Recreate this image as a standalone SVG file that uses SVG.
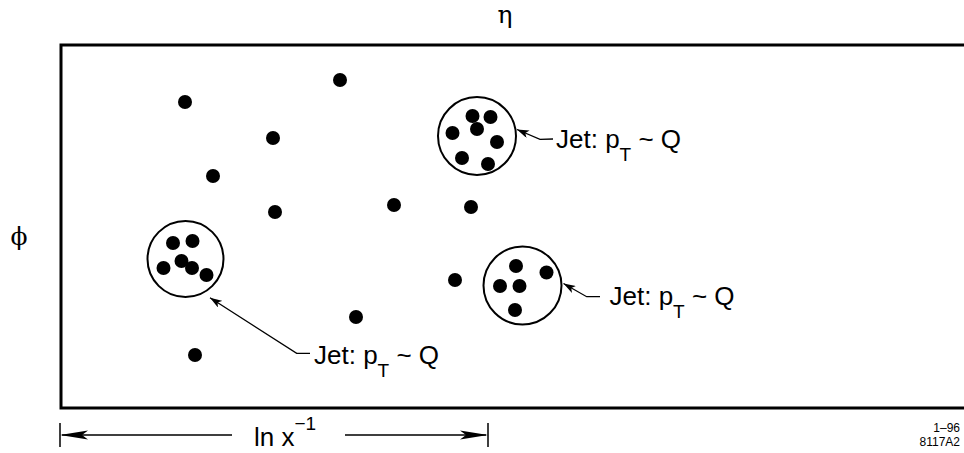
<svg xmlns="http://www.w3.org/2000/svg" width="964" height="453" viewBox="0 0 964 453">
<style>
.frame{fill:none;stroke:#000;stroke-width:3}
.dot{fill:#000}
.jet{fill:none;stroke:#000;stroke-width:2}
.lead{fill:none;stroke:#000;stroke-width:1.3}
.axis{fill:none;stroke:#000;stroke-width:1.5}
.lbl{font-family:"Liberation Sans",Arial,sans-serif;font-size:26px;fill:#000}
.sym{font-family:"DejaVu Serif","Liberation Serif",serif;font-size:25px;fill:#000}
.id{font-family:"Liberation Sans",Arial,sans-serif;font-size:12px;fill:#000;text-anchor:end}
</style>
<defs>
<marker id="ah" viewBox="0 0 12 8" refX="12" refY="4" markerWidth="12" markerHeight="8" markerUnits="userSpaceOnUse" orient="auto">
<path d="M0,0 L12,4 L0,8 L3,4 Z" fill="#000"/>
</marker>
</defs>
<rect width="964" height="453" fill="#fff"/>
<path class="frame" d="M1000,45 H61 V408 H1000"/>
<text class="sym" x="505" y="23" text-anchor="middle">η</text>
<text class="sym" x="19" y="245" text-anchor="middle">ϕ</text>
<g id="particles">
<circle class="dot" cx="185" cy="102" r="7"/>
<circle class="dot" cx="340" cy="80" r="7"/>
<circle class="dot" cx="273" cy="138" r="7"/>
<circle class="dot" cx="213" cy="176" r="7"/>
<circle class="dot" cx="275" cy="212" r="7"/>
<circle class="dot" cx="394" cy="205" r="7"/>
<circle class="dot" cx="471" cy="207" r="7"/>
<circle class="dot" cx="455" cy="280" r="7"/>
<circle class="dot" cx="356" cy="317" r="7"/>
<circle class="dot" cx="195" cy="355" r="7"/>
</g>
<g id="jet-top">
<circle class="jet" cx="477" cy="136" r="39"/>
<circle class="dot" cx="472.5" cy="116" r="7"/>
<circle class="dot" cx="490.5" cy="117" r="7"/>
<circle class="dot" cx="477" cy="129" r="7"/>
<circle class="dot" cx="452.5" cy="133" r="7"/>
<circle class="dot" cx="497" cy="142" r="7"/>
<circle class="dot" cx="462" cy="158" r="7"/>
<circle class="dot" cx="488" cy="164" r="7"/>
</g>
<g id="jet-left">
<circle class="jet" cx="185.5" cy="259" r="38"/>
<circle class="dot" cx="173" cy="243" r="7"/>
<circle class="dot" cx="192.5" cy="241" r="7"/>
<circle class="dot" cx="181.5" cy="261" r="7"/>
<circle class="dot" cx="163.5" cy="268" r="7"/>
<circle class="dot" cx="192" cy="268" r="7"/>
<circle class="dot" cx="206.5" cy="275" r="7"/>
</g>
<g id="jet-right">
<circle class="jet" cx="522.5" cy="285.5" r="39"/>
<circle class="dot" cx="516" cy="266" r="7"/>
<circle class="dot" cx="546.5" cy="272.5" r="7"/>
<circle class="dot" cx="500" cy="286" r="7"/>
<circle class="dot" cx="519.5" cy="286" r="7"/>
<circle class="dot" cx="515" cy="310" r="7"/>
</g>
<g id="connectors">
<path class="lead" d="M553,139 L540,139.3 L517,129.5" marker-end="url(#ah)"/>
<path class="lead" d="M600,296.7 L586.7,296.7 L563.5,283.5" marker-end="url(#ah)"/>
<path class="lead" d="M310,353.3 L296.7,353.3 L210,297.7" marker-end="url(#ah)"/>
</g>
<g id="label-top">
<text class="lbl" x="556" y="148">Jet: p<tspan font-size="19" dy="13">T</tspan><tspan dy="-13"> ~ Q</tspan></text>
</g>
<g id="label-right">
<text class="lbl" x="609.5" y="305">Jet: p<tspan font-size="19" dy="13">T</tspan><tspan dy="-13"> ~ Q</tspan></text>
</g>
<g id="label-left">
<text class="lbl" x="314" y="364">Jet: p<tspan font-size="19" dy="13">T</tspan><tspan dy="-13"> ~ Q</tspan></text>
</g>
<g id="axis">
<path class="axis" d="M60,423 V447 M488,423 V447 M62,435 H232 M345,435 H486"/>
<path d="M60,435 L88,430.5 L82,435 L88,439.5 Z" fill="#000"/>
<path d="M488,435 L460,430.5 L466,435 L460,439.5 Z" fill="#000"/>
<text class="lbl" x="254" y="446">ln x<tspan font-size="19" dy="-16">−1</tspan></text>
</g>
<text class="id" x="960" y="432">1–96</text>
<text class="id" x="960" y="446">8117A2</text>
</svg>
